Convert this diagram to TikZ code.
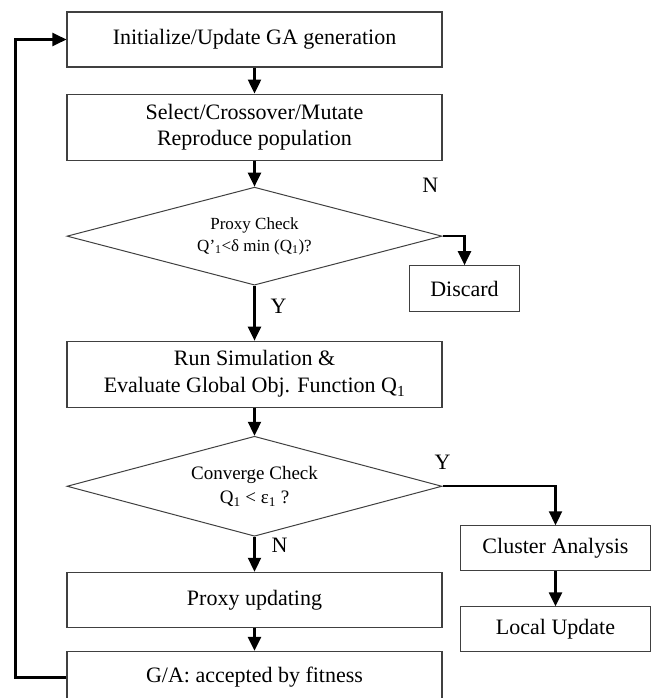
\documentclass[tikz,border=0pt]{standalone}
\usepackage{fontspec}
\setmainfont{Liberation Serif}
\usetikzlibrary{arrows.meta,positioning,shapes.geometric}

\begin{document}
\begin{tikzpicture}[
  x=1pt,y=1pt,
  node distance=26pt,
  box/.style={draw=black!75,line width=1.1pt,minimum width=375pt,align=center,inner sep=2pt,font=\fontsize{22}{26}\selectfont},
  sidebox/.style={box,minimum width=190pt,minimum height=45pt},
  check/.style={diamond,draw=black!75,line width=1pt,minimum width=375pt,minimum height=98pt,aspect=3.8,inner sep=0pt,align=center},
  lbl/.style={font=\fontsize{22}{24}\selectfont,inner sep=0pt},
  arr/.style={-{Triangle[length=14pt,width=13pt]},line width=2.3pt}
]
\useasboundingbox (0,0) rectangle (652,-698);
\node[box,minimum height=55pt] (init) at (254.5,-39.5) {Initialize/Update GA generation};
\node[box,minimum height=66pt,below=of init] (sel) {Select/Crossover/Mutate\\Reproduce population};
\node[check,below=of sel,font=\fontsize{17}{22}\selectfont] (pc) {Proxy Check\\Q\textquoteright\textsubscript{1}<δ min (Q\textsubscript{1})?};
\node[box,minimum height=66pt,below=55pt of pc,font=\fontsize{22}{27}\selectfont] (run) {Run Simulation \&\\Evaluate Global Obj. Function Q\textsubscript{1}};
\node[check,minimum height=100pt,below=28pt of run,font=\fontsize{19}{24}\selectfont] (conv) {Converge Check\\Q\textsubscript{1} < ε\textsubscript{1} ?};
\node[box,minimum height=55pt,below=35pt of conv] (proxy) {Proxy updating};
\node[box,minimum height=52pt,below=23pt of proxy] (ga) {G/A: accepted by fitness};
% right branch
\node[box,minimum width=110pt,minimum height=46pt,below=29pt of pc.east,xshift=22pt] (discard) {Discard};
\node[sidebox,below=39pt of conv.east,xshift=113pt] (cluster) {Cluster Analysis};
\node[sidebox,below=35pt of cluster] (local) {Local Update};
% branch labels
\node[lbl,above left=43pt and 4pt of pc.east] (no1) {N};
\node[lbl,below right=13pt and 16pt of pc.south] (yes1) {Y};
\node[lbl,above=17pt of conv.east] (yes2) {Y};
\node[lbl,below right=1pt and 17pt of conv.south] (no2) {N};
\draw[arr] (init) -- (sel);
\draw[arr] (sel) -- (pc);
\draw[arr] (pc) -- (run);
\draw[arr] (run) -- (conv);
\draw[arr] (conv) -- (proxy);
\draw[arr] (proxy) -- (ga);
\draw[arr] (pc.east) -| (discard);
\draw[arr] (conv.east) -| (cluster);
\draw[arr] (cluster) -- (local);
\draw[arr] (ga.west) -- ++(-51,0) |- (init);
\end{tikzpicture}
\end{document}
